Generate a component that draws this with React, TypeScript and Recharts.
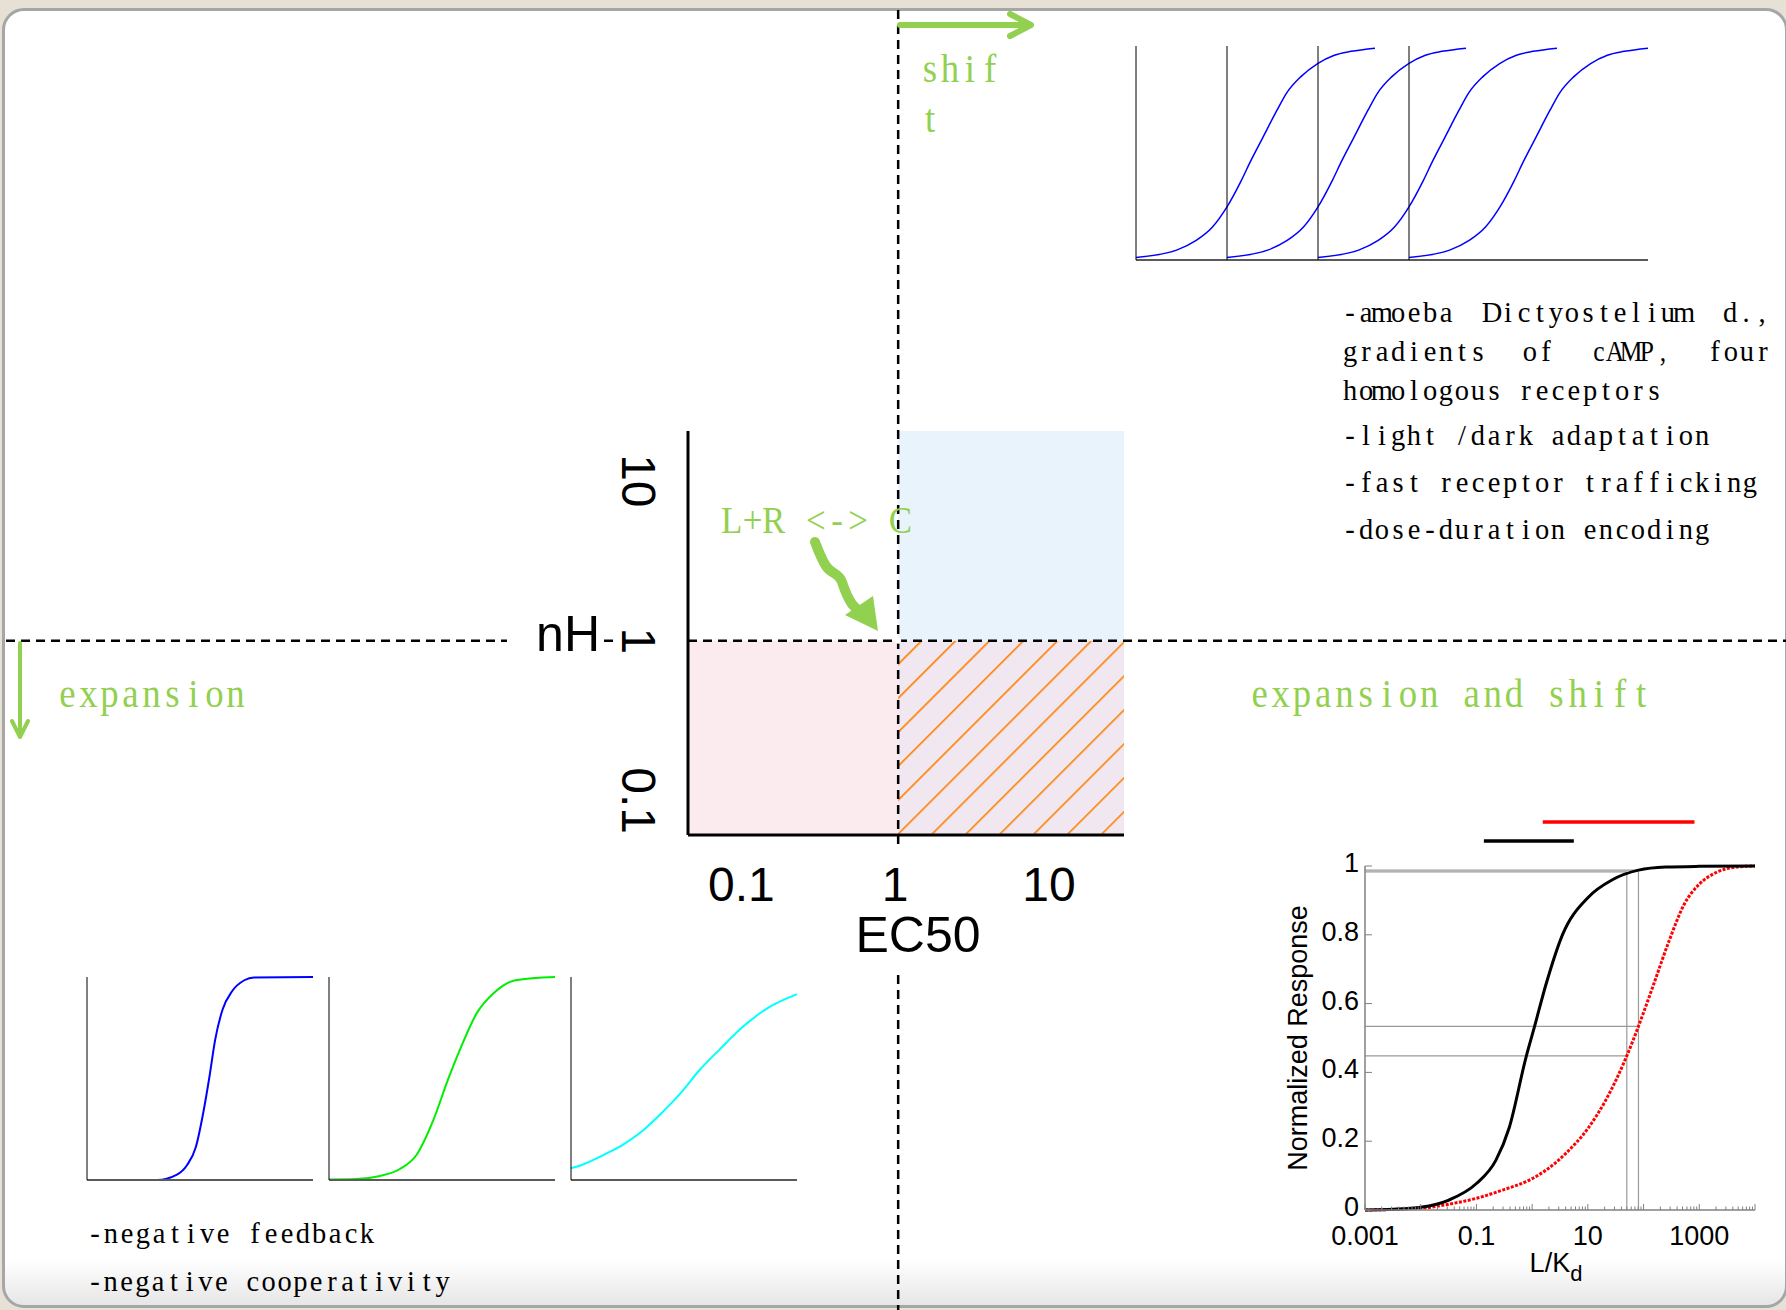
import React from "react";
import {
  ComposedChart,
  LineChart,
  Line,
  XAxis,
  YAxis,
  ReferenceArea,
  ReferenceLine,
} from "recharts";

const W = 1786;
const H = 1310;
const SANS = "'Liberation Sans', Arial, sans-serif";
const SERIF = "'Liberation Serif', 'DejaVu Serif', serif";
const GREEN = "#92d050";

// central EC50 / nH map (log axes)
const EC50_TICKS = [0.1, 1, 10];
const NH_TICKS = [0.1, 1, 10];
const EC50_RANGE = [0.043, 1, 29.4]; // min, split, max
const NH_RANGE = [0.061, 1, 20.5];

// top right: the same curve shifted four times (x as fraction of panel)
const SHIFT_X = [0, 0.17, 0.25, 0.32, 0.38, 0.44, 0.48, 0.53, 0.59, 0.63, 0.69, 0.76, 0.83, 0.9, 1];
const SHIFT_Y = [0.012, 0.046, 0.09, 0.154, 0.247, 0.37, 0.463, 0.571, 0.7, 0.78, 0.857, 0.918, 0.957, 0.975, 0.99];

// bottom left: expansion curves
const STEEP_X = [0, 0.31, 0.396, 0.443, 0.482, 0.514, 0.542, 0.567, 0.6, 0.642, 0.696, 0.739, 1];
const STEEP_Y = [0, 0, 0.025, 0.074, 0.164, 0.329, 0.51, 0.69, 0.84, 0.93, 0.984, 0.998, 1];
const MID_X = [0, 0.12, 0.226, 0.312, 0.387, 0.462, 0.526, 0.579, 0.654, 0.729, 0.825, 1];
const MID_Y = [0.003, 0.005, 0.02, 0.053, 0.123, 0.296, 0.493, 0.641, 0.822, 0.921, 0.984, 1];
const FLAT_X = [0, 0.047, 0.143, 0.229, 0.303, 0.4, 0.485, 0.57, 0.656, 0.763, 0.87, 1];
const FLAT_Y = [0.058, 0.074, 0.123, 0.173, 0.23, 0.329, 0.428, 0.543, 0.641, 0.757, 0.847, 0.916];

// bottom right: normalized response vs L/Kd
const BLACK_X = [0.001, 0.0032, 0.01, 0.032, 0.1, 0.224, 0.389, 0.776, 1.09, 1.78, 3.5, 10, 27.5, 81, 250, 1000, 10000];
const BLACK_Y = [0, 0.002, 0.008, 0.029, 0.077, 0.145, 0.24, 0.444, 0.53, 0.657, 0.8, 0.908, 0.96, 0.988, 0.997, 0.999, 1];
const RED_X = [0.001, 0.01, 0.032, 0.1, 0.295, 0.89, 1.78, 3.98, 10, 20.9, 50, 81, 145, 288, 537, 1000, 2000, 4570, 10000];
const RED_Y = [0, 0.005, 0.017, 0.034, 0.058, 0.087, 0.116, 0.164, 0.237, 0.319, 0.448, 0.534, 0.647, 0.783, 0.889, 0.947, 0.981, 0.997, 1];
const LKD_DECADES = [0.001, 0.01, 0.1, 1, 10, 100, 1000, 10000];
const LKD_LABELLED = [0.001, 0.1, 10, 1000];
const RESP_TICKS = [0, 0.2, 0.4, 0.6, 0.8, 1];
const MARK_X = [50, 81]; // guide lines: black curve ~0.98, red curve ~0.45 / 0.53
const MARK_BLACK_Y = [0.983, 0.988];
const MARK_RED_Y = [0.448, 0.534];
const RANGE_BLACK = [0.136, 5.6];
const RANGE_RED = [1.55, 820];

const LKD_MINOR = LKD_DECADES.slice(0, -1).flatMap((d) => [2, 3, 4, 5, 6, 7, 8, 9].map((m) => d * m));
const LKD_TICKS = [...LKD_DECADES, ...LKD_MINOR].sort((a, b) => a - b);

const toPoints = (xs: number[], ys: number[]) => xs.map((x, i) => ({ x, y: ys[i] }));

// half-width "SimSun-like" text: one glyph per fixed cell
function MonoText({ x, y, text, step, size, fill = "#000", sx = 0.95 }: any) {
  const xs = Array.from(text as string)
    .map((_, i) => ((x + step * (i + 0.5)) / sx).toFixed(1))
    .join(" ");
  return (
    <text
      x={xs}
      y={y}
      transform={`scale(${sx},1)`}
      fontSize={size}
      fill={fill}
      fontFamily={SERIF}
      textAnchor="middle"
    >
      {text}
    </text>
  );
}

function MiniPanel({ left, top, bottom, width, xs, ys, color, lineWidth }: any) {
  const height = bottom - top;
  return (
    <div style={{ position: "absolute", left: left - 1, top: top - 2, zIndex: 3 }}>
      <LineChart
        width={width + 3}
        height={height + 3}
        data={toPoints(xs, ys)}
        margin={{ top: 2, right: 2, bottom: 0, left: 0 }}
      >
        <XAxis
          dataKey="x"
          type="number"
          domain={[0, 1]}
          tick={false}
          tickLine={false}
          height={1}
          axisLine={{ stroke: "#5a5a5a", strokeWidth: 2 }}
        />
        <YAxis
          type="number"
          domain={[0, 1]}
          tick={false}
          tickLine={false}
          width={1}
          axisLine={{ stroke: "#000", strokeWidth: 1 }}
        />
        <Line
          type="monotone"
          dataKey="y"
          stroke={color}
          strokeWidth={lineWidth}
          dot={false}
          isAnimationActive={false}
        />
      </LineChart>
    </div>
  );
}

function CentralMap() {
  const [xMin, xSplit, xMax] = EC50_RANGE;
  const [yMin, ySplit, yMax] = NH_RANGE;
  const dash = { stroke: "#000", strokeWidth: 2.5, strokeDasharray: "9 6" };
  return (
    <div style={{ position: "absolute", left: 0, top: 0, zIndex: 1 }}>
      <ComposedChart
        width={W}
        height={H}
        data={[{ ec50: xSplit, nh: ySplit }]}
        margin={{ top: 431, left: 608, right: 662, bottom: 415 }}
      >
        <defs>
          <pattern id="hatch" patternUnits="userSpaceOnUse" width="24" height="24" patternTransform="rotate(45)">
            <line x1="0" y1="0" x2="0" y2="24" stroke="#ff7f00" strokeWidth="3.2" />
          </pattern>
        </defs>
        <XAxis
          dataKey="ec50"
          type="number"
          scale="log"
          domain={[xMin, xMax]}
          allowDataOverflow
          ticks={EC50_TICKS}
          interval={0}
          height={60}
          tickSize={0}
          tickMargin={0}
          tickLine={false}
          axisLine={{ stroke: "#000", strokeWidth: 3 }}
          tick={(p: any) => (
            <text x={p.x - 3} y={p.y + 66} textAnchor="middle" fontSize={48} fontFamily={SANS} fill="#000">
              {p.payload.value}
            </text>
          )}
          label={(p: any) => (
            <text
              x={p.viewBox.x + p.viewBox.width / 2 + 12}
              y={p.viewBox.y + 117}
              textAnchor="middle"
              fontSize={50}
              fontFamily={SANS}
              fill="#000"
            >
              EC50
            </text>
          )}
        />
        <YAxis
          dataKey="nh"
          type="number"
          scale="log"
          domain={[yMin, yMax]}
          allowDataOverflow
          ticks={NH_TICKS}
          interval={0}
          width={80}
          tickSize={0}
          tickMargin={0}
          tickLine={false}
          axisLine={{ stroke: "#000", strokeWidth: 3 }}
          tick={(p: any) => (
            <text
              transform={`translate(${p.x - 50},${p.y}) rotate(90)`}
              textAnchor="middle"
              dominantBaseline="central"
              fontSize={48}
              fontFamily={SANS}
              fill="#000"
            >
              {p.payload.value}
            </text>
          )}
          label={(p: any) => (
            <text
              x={p.viewBox.x - 8}
              y={p.viewBox.y + p.viewBox.height / 2 + 18}
              textAnchor="end"
              fontSize={50}
              fontFamily={SANS}
              fill="#000"
            >
              nH
            </text>
          )}
        />
        <ReferenceArea x1={xMin} x2={xSplit} y1={yMin} y2={ySplit} fill="#fbeaee" fillOpacity={1} stroke="none" />
        <ReferenceArea x1={xSplit} x2={xMax} y1={yMin} y2={ySplit} fill="#f0e7f0" fillOpacity={1} stroke="none" />
        <ReferenceArea x1={xSplit} x2={xMax} y1={yMin} y2={ySplit} fill="url(#hatch)" fillOpacity={1} stroke="none" />
        <ReferenceArea x1={xSplit} x2={xMax} y1={ySplit} y2={yMax} fill="#e8f3fb" fillOpacity={1} stroke="none" />
        <ReferenceLine
          x={xSplit}
          shape={(p: any) => (
            <g>
              <line x1={p.x1} x2={p.x1} y1={10} y2={845} {...dash} />
              <line x1={p.x1} x2={p.x1} y1={975} y2={H} {...dash} />
            </g>
          )}
        />
        <ReferenceLine
          y={ySplit}
          shape={(p: any) => (
            <g>
              <line x1={6} x2={507} y1={p.y1} y2={p.y1} {...dash} />
              <line x1={604} x2={616} y1={p.y1} y2={p.y1} {...dash} />
              <line x1={p.x1} x2={W} y1={p.y1} y2={p.y1} {...dash} />
            </g>
          )}
        />
        <Line dataKey="nh" stroke="none" dot={false} isAnimationActive={false} />
      </ComposedChart>
    </div>
  );
}

function DoseResponse() {
  const black = toPoints(BLACK_X, BLACK_Y);
  const red = toPoints(RED_X, RED_Y);
  const grid = { stroke: "#9a9a9a", strokeWidth: 1.2 };
  return (
    <div style={{ position: "absolute", left: 1270, top: 790, zIndex: 3 }}>
      <LineChart width={516} height={520} margin={{ top: 76, right: 31, left: 0, bottom: 0 }}>
        <XAxis
          dataKey="x"
          type="number"
          scale="log"
          domain={[0.001, 10000]}
          allowDataOverflow
          ticks={LKD_TICKS}
          interval={0}
          height={100}
          tickSize={0}
          tickMargin={0}
          tickLine={false}
          axisLine={{ stroke: "#808080", strokeWidth: 1.5 }}
          tick={(p: any) => {
            const v = p.payload.value;
            const major = LKD_DECADES.some((d) => Math.abs(d - v) / d < 1e-6);
            const label = LKD_LABELLED.some((d) => Math.abs(d - v) / d < 1e-6);
            return (
              <g>
                <line x1={p.x} x2={p.x} y1={p.y} y2={p.y - (major ? 6 : 3.5)} stroke="#808080" strokeWidth={1} />
                {label && (
                  <text x={p.x} y={p.y + 35} textAnchor="middle" fontSize={27} fontFamily={SANS} fill="#000">
                    {v}
                  </text>
                )}
              </g>
            );
          }}
          label={(p: any) => (
            <text
              x={p.viewBox.x + p.viewBox.width / 2 - 4}
              y={p.viewBox.y + 62}
              textAnchor="middle"
              fontSize={27}
              fontFamily={SANS}
              fill="#000"
            >
              L/K
              <tspan dy={9} fontSize={22}>
                d
              </tspan>
            </text>
          )}
        />
        <YAxis
          type="number"
          domain={[0, 1]}
          ticks={RESP_TICKS}
          interval={0}
          width={95}
          tickSize={0}
          tickMargin={0}
          tickLine={false}
          axisLine={{ stroke: "#808080", strokeWidth: 1.5 }}
          tick={(p: any) => (
            <g>
              <line x1={p.x} x2={p.x + 7} y1={p.y} y2={p.y} stroke="#808080" strokeWidth={1} />
              <text x={p.x - 6} y={p.y + 6} textAnchor="end" fontSize={27} fontFamily={SANS} fill="#000">
                {p.payload.value}
              </text>
            </g>
          )}
          label={(p: any) => {
            const cx = p.viewBox.x + 28;
            const cy = p.viewBox.y + p.viewBox.height / 2;
            return (
              <text
                transform={`translate(${cx},${cy}) rotate(-90)`}
                textAnchor="middle"
                dominantBaseline="central"
                fontSize={27}
                fontFamily={SANS}
                fill="#000"
              >
                Normalized Response
              </text>
            );
          }}
        />
        {MARK_X.map((x, i) => (
          <ReferenceLine key={`hb${i}`} segment={[{ x: 0.001, y: MARK_BLACK_Y[i] }, { x, y: MARK_BLACK_Y[i] }]} {...grid} />
        ))}
        {MARK_X.map((x, i) => (
          <ReferenceLine key={`hr${i}`} segment={[{ x: 0.001, y: MARK_RED_Y[i] }, { x, y: MARK_RED_Y[i] }]} {...grid} />
        ))}
        {MARK_X.map((x, i) => (
          <ReferenceLine key={`v${i}`} segment={[{ x, y: 0 }, { x, y: MARK_BLACK_Y[i] }]} {...grid} />
        ))}
        <ReferenceLine
          segment={[{ x: RANGE_BLACK[0], y: 1.073 }, { x: RANGE_BLACK[1], y: 1.073 }]}
          ifOverflow="visible"
          stroke="#000"
          strokeWidth={3.5}
        />
        <ReferenceLine
          segment={[{ x: RANGE_RED[0], y: 1.128 }, { x: RANGE_RED[1], y: 1.128 }]}
          ifOverflow="visible"
          stroke="#ff0000"
          strokeWidth={3.5}
        />
        <Line
          data={red}
          dataKey="y"
          type="monotone"
          stroke="#ff0000"
          strokeWidth={3}
          strokeDasharray="3 1.5"
          dot={false}
          isAnimationActive={false}
        />
        <Line data={black} dataKey="y" type="monotone" stroke="#000" strokeWidth={3} dot={false} isAnimationActive={false} />
      </LineChart>
    </div>
  );
}

function Annotations() {
  return (
    <svg width={W} height={H} style={{ position: "absolute", left: 0, top: 0, zIndex: 2, pointerEvents: "none" }}>
      {/* shift arrow */}
      <line x1={900} y1={25} x2={1029} y2={25} stroke={GREEN} strokeWidth={6} strokeLinecap="round" />
      <polyline points="1010,14 1031,25 1010,36" fill="none" stroke={GREEN} strokeWidth={6} strokeLinecap="round" strokeLinejoin="round" />
      {/* expansion arrow */}
      <line x1={20} y1={643} x2={20} y2={736} stroke={GREEN} strokeWidth={4} strokeLinecap="round" />
      <polyline points="12,721 20,737 28,721" fill="none" stroke={GREEN} strokeWidth={4} strokeLinecap="round" strokeLinejoin="round" />
      {/* binding squiggle */}
      <path
        d="M815,542 C819,552 821,558 826,566 S839,573 842,582 S847,597 852,604 S861,611 864,614"
        fill="none"
        stroke={GREEN}
        strokeWidth={10}
        strokeLinecap="round"
        strokeLinejoin="round"
      />
      <polygon points="878,631 845,615 873,596" fill={GREEN} />

      <MonoText x={920} y={82} text="shif" step={20} size={40} fill={GREEN} sx={0.92} />
      <MonoText x={920} y={132} text="t" step={20} size={40} fill={GREEN} sx={0.92} />
      <MonoText x={721} y={533} text="L+R <-> C" step={21.1} size={38} fill={GREEN} sx={0.92} />
      <MonoText x={57} y={707} text="expansion" step={21} size={40} fill={GREEN} sx={0.92} />
      <MonoText x={1249} y={707} text="expansion and shift" step={21.2} size={40} fill={GREEN} sx={0.92} />

      <MonoText x={1342} y={322} text="-amoeba" step={16} size={30} />
      <MonoText x={1484} y={322} text="Dictyostelium" step={16} size={30} />
      <MonoText x={1722} y={322} text="d.," step={16} size={30} />
      <MonoText x={1342} y={361} text="gradients" step={16} size={30} />
      <MonoText x={1522} y={361} text="of" step={16} size={30} />
      <MonoText x={1591} y={361} text="cAMP," step={16} size={30} sx={0.85} />
      <MonoText x={1707} y={361} text="four" step={16} size={30} />
      <MonoText x={1342} y={400} text="homologous receptors" step={16} size={30} />
      <MonoText x={1342} y={445} text="-light /dark adaptation" step={16} size={30} />
      <MonoText x={1342} y={492} text="-fast receptor trafficking" step={16} size={30} />
      <MonoText x={1342} y={539} text="-dose-duration encoding" step={16} size={30} />

      <MonoText x={87} y={1243} text="-negative feedback" step={16} size={30} />
      <MonoText x={87} y={1291} text="-negative cooperativity" step={15.8} size={30} />
    </svg>
  );
}

const SHIFT_PANEL_LEFT = [1136, 1227, 1318, 1409];
const FEEDBACK_PANELS = [
  { left: 87, xs: STEEP_X, ys: STEEP_Y, color: "#0000ff" },
  { left: 329, xs: MID_X, ys: MID_Y, color: "#00ee00" },
  { left: 571, xs: FLAT_X, ys: FLAT_Y, color: "#00ffff" },
];

export default function App() {
  return (
    <div
      style={{
        position: "absolute",
        left: 0,
        top: 0,
        width: W,
        height: H,
        overflow: "hidden",
        background: "#e7e0d5",
        fontFamily: SANS,
      }}
    >
      <div
        style={{
          position: "absolute",
          left: 2,
          top: 8,
          width: W,
          height: 1300,
          boxSizing: "border-box",
          border: "3px solid #a6a6a6",
          borderRadius: 22,
          background: "linear-gradient(to bottom, #ffffff 0%, #ffffff 96.5%, #e6e6e6 100%)",
        }}
      />
      <CentralMap />
      <Annotations />
      {SHIFT_PANEL_LEFT.map((left) => (
        <MiniPanel
          key={left}
          left={left}
          top={46}
          bottom={260}
          width={239}
          xs={SHIFT_X}
          ys={SHIFT_Y}
          color="#0000ff"
          lineWidth={1.5}
        />
      ))}
      {FEEDBACK_PANELS.map((p) => (
        <MiniPanel
          key={p.left}
          left={p.left}
          top={977}
          bottom={1180}
          width={226}
          xs={p.xs}
          ys={p.ys}
          color={p.color}
          lineWidth={2}
        />
      ))}
      <DoseResponse />
    </div>
  );
}
